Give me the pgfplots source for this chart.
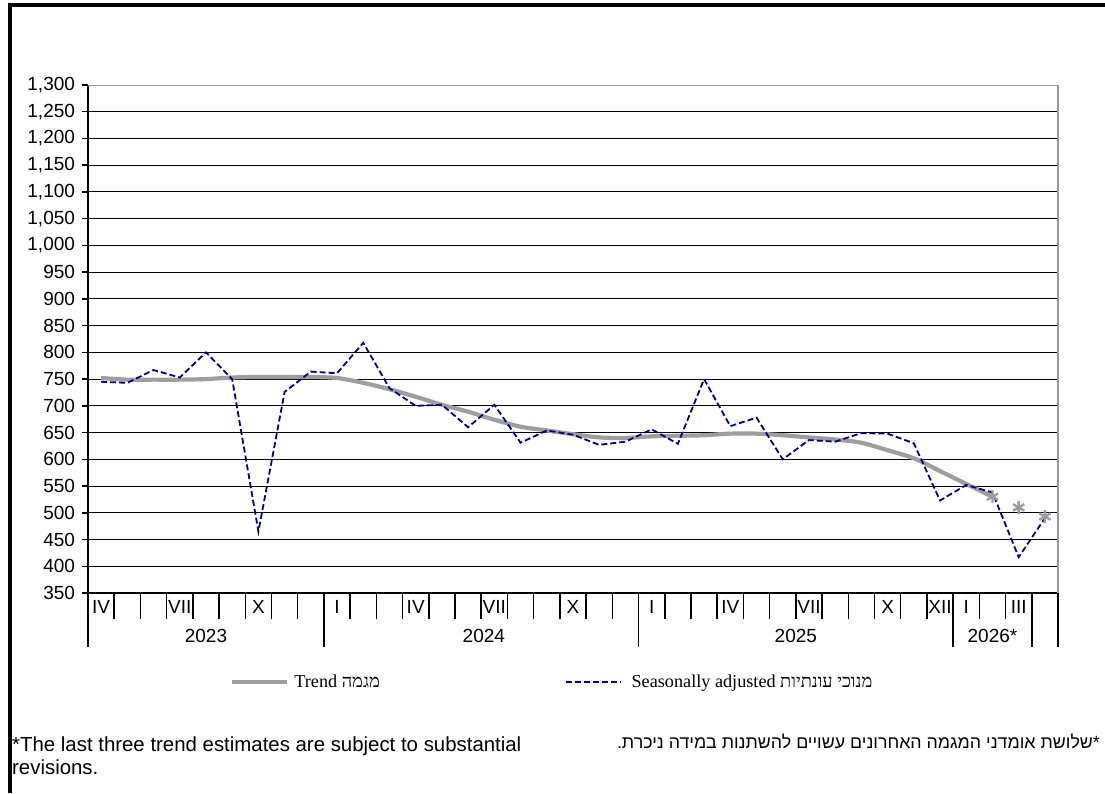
\documentclass[border=0pt]{standalone}
\usepackage{fontspec}
\setmainfont{Liberation Sans}
\newfontfamily\serif{Liberation Serif}
\newfontfamily\hebsans[Script=Hebrew]{Liberation Sans}
\newfontfamily\hebserif[Script=Hebrew]{Liberation Serif}
\TeXXeTstate=1
\usepackage{pgfplots}
\pgfplotsset{compat=1.18}

\definecolor{trendgray}{RGB}{158,158,158}
\definecolor{sanavy}{RGB}{0,0,128}
\newcommand\axfont{\fontsize{19}{22}\selectfont}

% seasonally adjusted, Apr 2023 = 0
\pgfplotstableread{
x y
0 745
1 743
2 767
3 753
4 800
5 750
6 465
7 726
8 764
9 761
10 818
11 733
12 700
13 702
14 660
15 702
16 631
17 654
18 646
19 627
20 633
21 656
22 629
23 750
24 662
25 678
26 600
27 636
28 633
29 649
30 648
31 630
32 523
33 552
34 538
35 417
36 490
}\sadata

\pgfplotstableread{
x y
0 752
1 749
2 749
3 749
4 750
5 753
6 754
7 754
8 754
9 752
10 743
11 731
12 717
13 702
14 689
15 674
16 661
17 654
18 647
19 641
20 640
21 643
22 644
23 645
24 648
25 648
26 645
27 641
28 637
29 631
30 617
31 602
32 578
33 554
34 530
}\trenddata

\pgfplotstableread{
x y
34 530
35 510
36 493
}\lastthree

\begin{document}
\begin{tikzpicture}
\useasboundingbox (0pt,0pt) rectangle (1105pt,793pt);
\draw[line width=4pt] (9.5pt,0pt) -- (9.5pt,788pt) -- (1105pt,788pt);

\begin{axis}[
  at={(88pt,200pt)}, anchor=south west,
  scale only axis, width=970pt, height=508pt,
  xmin=-0.5, xmax=36.5, ymin=350, ymax=1300,
  clip=false,
  axis lines*=left,
  axis line style={black, line width=1.5pt},
  ytick={350,400,...,1300},
  ymajorgrids,
  major grid style={black, line width=1pt},
  tick align=outside,
  major tick length=6pt,
  tick style={black, line width=1.5pt},
  xtick={0,...,36},
  xticklabels={IV,,,VII,,,X,,,I,,,IV,,,VII,,,X,,,I,,,IV,,,VII,,,X,,XII,I,,III,},
  major x tick style={draw=none},
  minor xtick={-0.5,0.5,...,36.5},
  minor tick length=26pt,
  extra x ticks={-0.5,8.5,20.5,32.5,35.5,36.5},
  extra x tick labels={},
  extra x tick style={major tick length=54pt, major x tick style={draw=black, line width=1.5pt}, grid=none},
  ticklabel style={font=\axfont},
  xticklabel style={yshift=2pt},
  yticklabel style={xshift=-3.5pt},
  /pgf/number format/1000 sep={,},
  /pgf/number format/assume math mode=true,
  legend columns=2,
  legend image code/.code={\draw[#1] (0pt,0pt) -- (55pt,0pt);},
  legend style={at={(0.1464,-0.175)}, anchor=west, draw=none, fill=none,
    inner sep=0pt, column sep=0pt,
    /tikz/every even column/.append style={column sep=180pt},
    font=\serif\fontsize{18.2}{21}\selectfont,
    cells={anchor=west}, nodes={inner xsep=5pt, inner ysep=1pt}},
]
\addplot[color=trendgray, line width=4.2pt, smooth, tension=0.5] table {\trenddata};
\addlegendentry{Trend {\hebserif\beginR מגמה\endR}}
\addplot[color=sanavy, line width=1.8pt, dash pattern=on 6pt off 3pt] table {\sadata};
\addlegendentry{\hspace{5pt}Seasonally adjusted {\hebserif\beginR מנוכי עונתיות\endR}}
\addplot[forget plot, only marks, color=trendgray, mark=asterisk, mark size=6.5pt,
  mark options={line width=2.4pt}] table {\lastthree};

\draw[gray!80, line width=1.5pt] (rel axis cs:1,0) -- (rel axis cs:1,1);
\draw[gray!80, line width=1pt] (rel axis cs:0,1) -- (rel axis cs:1,1);

\node[font=\axfont, yshift=-43pt] at (axis cs:4,350) {2023};
\node[font=\axfont, yshift=-43pt] at (axis cs:14.6,350) {2024};
\node[font=\axfont, yshift=-43pt] at (axis cs:26.5,350) {2025};
\node[font=\axfont, yshift=-43pt] at (axis cs:34,350) {2026*};
\end{axis}

\node[anchor=north west, align=left, inner sep=0pt,
  font=\fontsize{20.4}{23}\selectfont] at (12pt,56pt)
  {*The last three trend estimates are subject to substantial\\revisions.};
\node[anchor=north east, inner sep=0pt,
  font=\hebsans\fontsize{17.8}{20}\selectfont] at (1100pt,59pt)
  {\beginR *שלושת אומדני המגמה האחרונים עשויים להשתנות במידה ניכרת.\endR};
\end{tikzpicture}
\end{document}
